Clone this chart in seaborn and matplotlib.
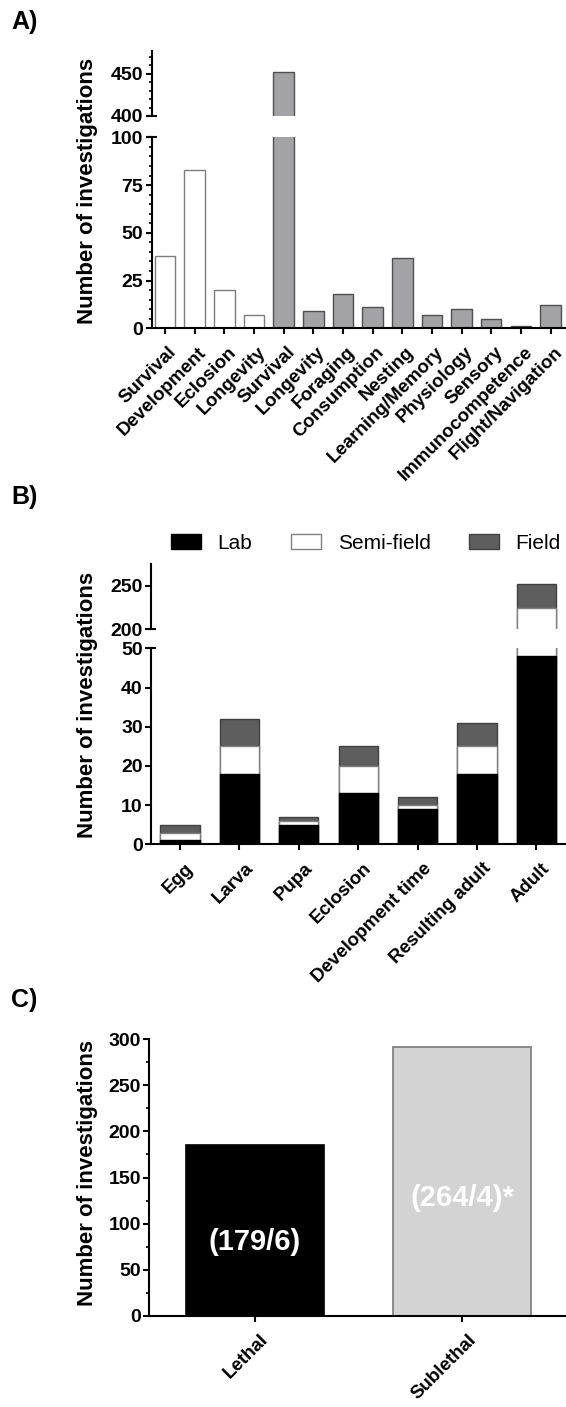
import matplotlib
matplotlib.use("Agg")
import matplotlib.pyplot as plt
import seaborn as sns
import pandas as pd
import numpy as np
from matplotlib.ticker import MultipleLocator
from matplotlib.transforms import ScaledTranslation
from matplotlib.patches import Patch

# ---------------- data ----------------
a_labels = ["Survival", "Development", "Eclosion", "Longevity", "Survival", "Longevity",
            "Foraging", "Consumption", "Nesting", "Learning/Memory", "Physiology",
            "Sensory", "Immunocompetence", "Flight/Navigation"]
a_values = [38, 83, 20, 7, 452, 9, 18, 11, 37, 7, 10, 5, 1, 12]
a_group = ["Lethal"] * 4 + ["Sublethal"] * 10

b_stages = ["Egg", "Larva", "Pupa", "Eclosion", "Development time", "Resulting adult", "Adult"]
b_lab = [1, 18, 5, 13, 9, 18, 48]
b_semi = [2, 7, 1, 7, 1, 7, 176]
b_field = [2, 7, 1, 5, 2, 6, 28]
b_series = ["Lab", "Semi-field", "Field"]

c_types = ["Lethal", "Sublethal"]
c_values = [185, 292]
c_notes = ["(179/6)", "(264/4)*"]

# ---------------- style ----------------
sns.set_theme(style="ticks", rc={
    "axes.linewidth": 1.5,
    "xtick.major.width": 1.5, "ytick.major.width": 1.5,
    "xtick.minor.width": 1.2, "ytick.minor.width": 1.2,
    "xtick.major.size": 4, "ytick.major.size": 4,
    "ytick.minor.size": 2.5,
    "axes.edgecolor": "black",
    "xtick.color": "black", "ytick.color": "black",
    "text.color": "black", "axes.labelcolor": "black",
})
plt.rcParams["font.family"] = ["Liberation Sans", "DejaVu Sans"]
plt.rcParams["font.weight"] = "bold"

W, H = 566, 1407
fig = plt.figure(figsize=(W / 100, H / 100), dpi=100)


def add_ax(left_px, top_px, bottom_px, right_px=W):
    return fig.add_axes([left_px / W, 1 - bottom_px / H,
                         (right_px - left_px) / W, (bottom_px - top_px) / H])


def style_xlabels(ax, fs, dx_px, pad):
    ax.tick_params(axis="x", pad=pad)
    for lab in ax.get_xticklabels():
        lab.set_rotation(45)
        lab.set_ha("right")
        lab.set_rotation_mode("anchor")
        lab.set_fontsize(fs)
        lab.set_fontweight("bold")
        lab.set_color("black")
        lab.set_transform(lab.get_transform() + ScaledTranslation(dx_px / 100, 0, fig.dpi_scale_trans))


def break_mark(ax, y_axes):
    ax.plot([-0.013, 0.013], [y_axes, y_axes], transform=ax.transAxes,
            color="black", lw=1.5, clip_on=False, solid_capstyle="butt")


TICK_FS = 14
XLAB_FS = 13.5
YLAB_FS = 16
PANEL_FS = 18

# ---------------- panel A ----------------
df_a = pd.DataFrame({"pos": list(range(len(a_values))), "value": a_values, "group": a_group})
axA_top = add_ax(151.7, 50.7, 116.0)
axA_bot = add_ax(151.7, 137.3, 328.3)
for ax in (axA_top, axA_bot):
    sub_l = df_a[df_a.group == "Lethal"]
    sub_s = df_a[df_a.group == "Sublethal"]
    sns.barplot(data=sub_l, x="pos", y="value", order=list(range(len(a_values))),
                color="white", saturation=1, width=0.69, edgecolor="#7d7d7d",
                linewidth=1.0, errorbar=None, ax=ax)
    sns.barplot(data=sub_s, x="pos", y="value", order=list(range(len(a_values))),
                color="#a2a2a7", saturation=1, width=0.69, edgecolor="#4f4f4f",
                linewidth=1.0, errorbar=None, ax=ax)
    ax.set_xlim(-0.45, 13.52)
    ax.set_xlabel("")
    ax.set_ylabel("")
    sns.despine(ax=ax)

axA_top.set_ylim(400, 477)
axA_top.yaxis.set_major_locator(MultipleLocator(50))
axA_top.yaxis.set_minor_locator(MultipleLocator(10))
axA_top.spines["bottom"].set_visible(False)
axA_top.tick_params(axis="x", bottom=False, labelbottom=False)
axA_top.tick_params(axis="y", which="minor", left=True)
break_mark(axA_top, 0)

axA_bot.set_ylim(0, 100)
axA_bot.yaxis.set_major_locator(MultipleLocator(25))
axA_bot.yaxis.set_minor_locator(MultipleLocator(5))
axA_bot.tick_params(axis="y", which="minor", left=True)
break_mark(axA_bot, 1)
axA_bot.set_xticks(range(len(a_labels)))
axA_bot.set_xticklabels(a_labels)
style_xlabels(axA_bot, XLAB_FS, 3, 7)

for ax in (axA_top, axA_bot):
    ax.tick_params(axis="y", labelsize=TICK_FS, pad=2)
    for t in ax.get_yticklabels():
        t.set_fontweight("bold")

fig.text(88 / W, 1 - 191 / H, "Number of investigations", rotation=90,
         ha="center", va="center", fontsize=YLAB_FS, fontweight="bold")
fig.text(11 / W, 1 - 22 / H, "A)", ha="left", va="center", fontsize=PANEL_FS, fontweight="bold")

# ---------------- panel B ----------------
df_b = pd.DataFrame({"stage": b_stages, "lab": b_lab, "semi": b_semi, "field": b_field})
df_b["lab_semi"] = df_b["lab"] + df_b["semi"]
df_b["total"] = df_b["lab_semi"] + df_b["field"]

axB_top = add_ax(151, 564, 629.3)
axB_bot = add_ax(151, 648.3, 844.3)
for ax in (axB_top, axB_bot):
    sns.barplot(data=df_b, x="stage", y="total", color="#5e5e5e", saturation=1,
                width=0.66, edgecolor="#404040", linewidth=1.0, errorbar=None, ax=ax)
    sns.barplot(data=df_b, x="stage", y="lab_semi", color="white", saturation=1,
                width=0.66, edgecolor="#808080", linewidth=1.0, errorbar=None, ax=ax)
    sns.barplot(data=df_b, x="stage", y="lab", color="black", saturation=1,
                width=0.66, edgecolor="black", linewidth=1.0, errorbar=None, ax=ax)
    ax.set_xlim(-0.49, 6.5)
    ax.set_xlabel("")
    ax.set_ylabel("")
    sns.despine(ax=ax)

axB_top.set_ylim(200, 275)
axB_top.yaxis.set_major_locator(MultipleLocator(50))
axB_top.spines["bottom"].set_visible(False)
axB_top.tick_params(axis="x", bottom=False, labelbottom=False)
break_mark(axB_top, 0)

axB_bot.set_ylim(0, 50)
axB_bot.yaxis.set_major_locator(MultipleLocator(10))
break_mark(axB_bot, 1)
style_xlabels(axB_bot, XLAB_FS, 5, 7)

for ax in (axB_top, axB_bot):
    ax.tick_params(axis="y", labelsize=TICK_FS, pad=2)
    for t in ax.get_yticklabels():
        t.set_fontweight("bold")

fig.text(88 / W, 1 - 705 / H, "Number of investigations", rotation=90,
         ha="center", va="center", fontsize=YLAB_FS, fontweight="bold")
fig.text(11 / W, 1 - 497 / H, "B)", ha="left", va="center", fontsize=PANEL_FS, fontweight="bold")

handles = [Patch(facecolor="black", edgecolor="black", label=b_series[0]),
           Patch(facecolor="white", edgecolor="#808080", label=b_series[1]),
           Patch(facecolor="#5e5e5e", edgecolor="#404040", label=b_series[2])]
leg = fig.legend(handles=handles, loc="center left", bbox_to_anchor=(171 / W, 1 - 543 / H),
                 ncol=3, frameon=False, borderpad=0, borderaxespad=0,
                 handlelength=1.44, handleheight=0.7, handletextpad=0.8, columnspacing=1.85,
                 prop={"size": 15, "weight": "normal"})
for t in leg.get_texts():
    t.set_color("black")

# ---------------- panel C ----------------
df_c = pd.DataFrame({"type": c_types, "value": c_values})
axC = add_ax(149.3, 1039.3, 1315.7)
sns.barplot(data=df_c, x="type", y="value", hue="type", palette=["black", "#d3d3d3"],
            saturation=1, width=0.667, linewidth=1.2, errorbar=None, legend=False, ax=axC)
for p, ec in zip(axC.patches, ["black", "#7a7a7a"]):
    p.set_edgecolor(ec)
axC.set_xlim(-0.51, 1.5)
axC.set_ylim(0, 300)
axC.yaxis.set_major_locator(MultipleLocator(50))
axC.yaxis.set_minor_locator(MultipleLocator(25))
axC.tick_params(axis="y", which="minor", left=True)
axC.set_xlabel("")
axC.set_ylabel("")
sns.despine(ax=axC)
style_xlabels(axC, XLAB_FS, 5, 7)
axC.tick_params(axis="y", labelsize=TICK_FS, pad=2)
for t in axC.get_yticklabels():
    t.set_fontweight("bold")
for i, (note, ypos) in enumerate(zip(c_notes, [80, 128])):
    axC.text(i, ypos, note, ha="center", va="center", color="white",
             fontsize=21, fontweight="bold")

fig.text(88 / W, 1 - 1173 / H, "Number of investigations", rotation=90,
         ha="center", va="center", fontsize=YLAB_FS, fontweight="bold")
fig.text(11 / W, 1 - 1000 / H, "C)", ha="left", va="center", fontsize=PANEL_FS, fontweight="bold")

fig.savefig("out.png", dpi=100)
